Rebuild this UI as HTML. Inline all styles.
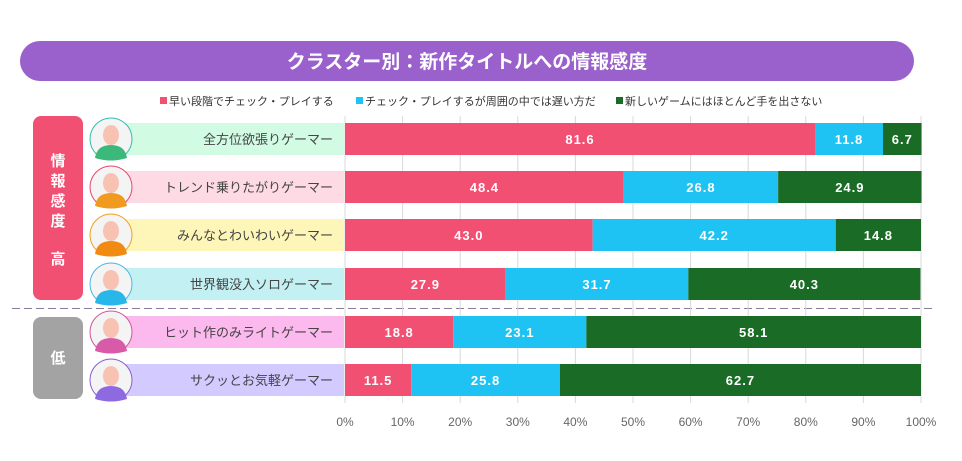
<!DOCTYPE html>
<html><head><meta charset="utf-8"><style>
body{margin:0;background:#fff;width:962px;height:456px;overflow:hidden;font-family:"Liberation Sans","Noto Sans CJK JP",sans-serif;}
</style></head><body>
<svg id="c" width="962" height="456" xmlns="http://www.w3.org/2000/svg" font-family="Liberation Sans, Noto Sans CJK JP, sans-serif">
<rect x="20" y="41" width="894" height="40" rx="20" fill="#9a60cc"/>
<text x="467" y="68" text-anchor="middle" fill="#fff" font-size="19" font-weight="bold">クラスター別：新作タイトルへの情報感度</text>
<g id="legend"></g>
<rect x="33" y="116" width="50" height="184" rx="8" fill="#f25073"/>
<text x="58" y="166" text-anchor="middle" fill="#fff" font-size="15" font-weight="bold"><tspan x="58" dy="0">情</tspan><tspan x="58" dy="20">報</tspan><tspan x="58" dy="20">感</tspan><tspan x="58" dy="20">度</tspan><tspan x="58" dy="38">高</tspan></text>
<rect x="33" y="317" width="50" height="82" rx="8" fill="#a3a3a3"/>
<text x="58" y="363" text-anchor="middle" fill="#fff" font-size="15" font-weight="bold">低</text>
<line x1="12" y1="308.5" x2="932" y2="308.5" stroke="#8a7a9a" stroke-dasharray="8,4" stroke-width="1"/>
<g id="grid"></g><g id="rows"></g><g id="ticks"></g>
</svg>
<script>
const categories=["全方位欲張りゲーマー","トレンド乗りたがりゲーマー","みんなとわいわいゲーマー","世界観没入ソロゲーマー","ヒット作のみライトゲーマー","サクッとお気軽ゲーマー"];
const early=[81.6,48.4,43.0,27.9,18.8,11.5];
const slow=[11.8,26.8,42.2,31.7,23.1,25.8];
const never=[6.7,24.9,14.8,40.3,58.1,62.7];
const tickLabels=["0%","10%","20%","30%","40%","50%","60%","70%","80%","90%","100%"];
const legendLabels=["早い段階でチェック・プレイする","チェック・プレイするが周囲の中では遅い方だ","新しいゲームにはほとんど手を出さない"];
const NS="http://www.w3.org/2000/svg";
const X0=345,X1=921;
const x=v=>X0+(X1-X0)*v/100;
const rowTop=[123,171,219,268,316,364];
const colors=["#f25073","#1fc3f3","#1a6b25"];
const bandColors=["#d2fbe4","#fddae4","#fdf6b8","#c3f0f2","#fbb9ee","#d3caff"];
const ringColors=["#2fbfae","#e6466b","#f0a020","#46b8e0","#d0559a","#8a5acd"];
const bodyColors=["#3cb87a","#f09a20","#f08a10","#29b6e8","#d85aa8","#8d6ae0"];
function el(t,a,p){const e=document.createElementNS(NS,t);for(const k in a)e.setAttribute(k,a[k]);p.appendChild(e);return e;}
const grid=document.getElementById('grid'),rows=document.getElementById('rows'),ticks=document.getElementById('ticks'),legend=document.getElementById('legend');
tickLabels.forEach((t,i)=>{const v=i*10;
const l=el('line',{x1:x(v),x2:x(v),y1:116,y2:403,stroke:'#d8d8d8','stroke-width':1},grid);


const tx=el('text',{x:x(v),y:426,'text-anchor':'middle','font-size':12,fill:'#666'},ticks);


tx.textContent=t;});
const lx=[160,356,616];
legendLabels.forEach((t,i)=>{
const r=el('rect',{x:lx[i],y:97,width:7,height:7,fill:colors[i]},legend);


const tx=el('text',{x:lx[i]+9,y:105,'font-size':11,fill:'#333'},legend);


tx.textContent=t;});
categories.forEach((c,i)=>{const y=rowTop[i],h=32;
const b=el('rect',{x:125,y:y,width:219,height:h,fill:bandColors[i]},rows);


const lt=el('text',{x:333,y:y+21,'text-anchor':'end','font-size':13,fill:'#444'},rows);


lt.textContent=c;
const cy=y+h/2;
const ci=el('circle',{cx:111,cy:cy,r:21,fill:'#f4f4f4',stroke:ringColors[i],'stroke-width':1},rows);


const bd=el('path',{d:`M95 ${cy+19} Q97 ${cy+6} 111 ${cy+6} Q125 ${cy+6} 127 ${cy+19} Q111 ${cy+24} 95 ${cy+19}Z`,fill:bodyColors[i]},rows);


const hd=el('ellipse',{cx:111,cy:cy-4,rx:8,ry:10,fill:'#f7c2b2'},rows);


let acc=0;[early[i],slow[i],never[i]].forEach((v,j)=>{
const r=el('rect',{x:x(acc),y:y,width:x(acc+v)-x(acc),height:h,fill:colors[j]},rows);


const t=el('text',{x:(x(acc)+x(acc+v))/2,y:y+21,'text-anchor':'middle','font-size':13,'font-weight':'bold',fill:'#fff','letter-spacing':'1'},rows);


t.textContent=v.toFixed(1);acc+=v;});
});
</script>
</body></html>
